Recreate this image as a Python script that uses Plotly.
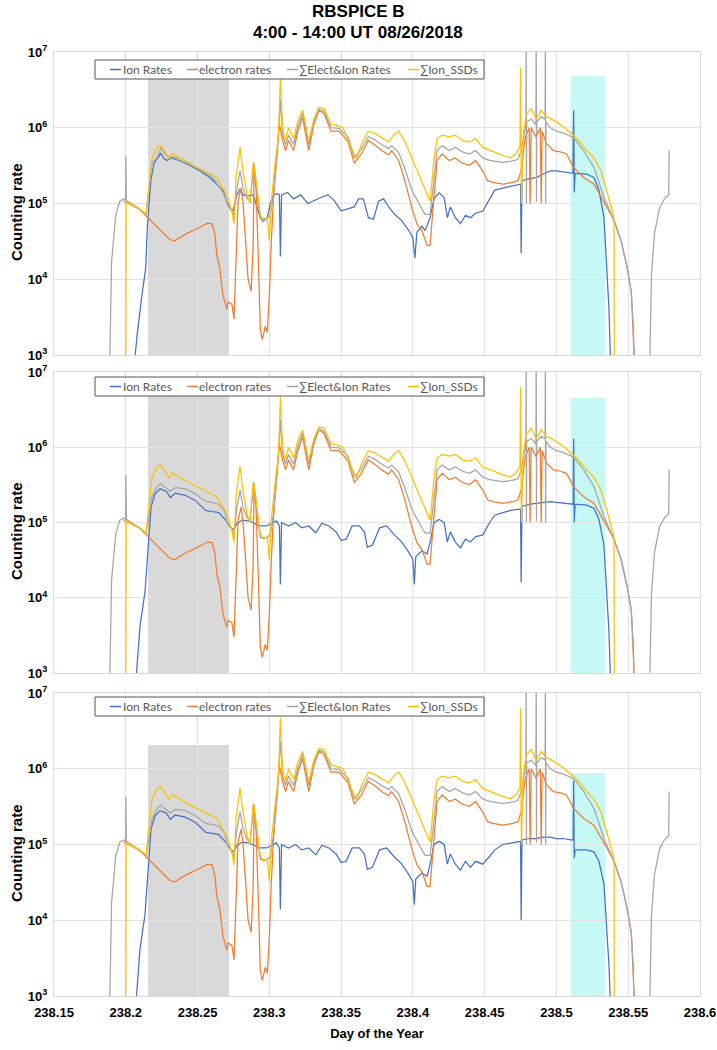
import plotly.graph_objects as go

# ---------------- data (day of year, counting rate) ----------------
SERIES_NAMES = ["Ion Rates", "electron rates", "∑Elect&Ion Rates", "∑Ion_SSDs"]
X_TICKS = [238.15, 238.2, 238.25, 238.3, 238.35, 238.4, 238.45, 238.5, 238.55, 238.6]
X_TICK_LABELS = ["238.15", "238.2", "238.25", "238.3", "238.35", "238.4", "238.45", "238.5", "238.55", "238.6"]
Y_TICKS = [1e3, 1e4, 1e5, 1e6, 1e7]
Y_TICK_LABELS = ["10<sup>3</sup>", "10<sup>4</sup>", "10<sup>5</sup>", "10<sup>6</sup>", "10<sup>7</sup>"]
GRAY_INTERVAL = [238.2155, 238.2718]
CYAN_INTERVAL = [238.5099, 238.5338]

ION_P1 = [
    (238.2050, 5e2), (238.2080, 1.9e3), (238.2113, 6.3e3), (238.2139, 1.4e4), (238.2150, 4.8e4),
    (238.2174, 2e5), (238.2197, 3.4e5), (238.2220, 4e5), (238.2244, 4.6e5), (238.2268, 3.9e5),
    (238.2289, 3.7e5), (238.2315, 4e5), (238.2373, 3.7e5), (238.2444, 3.2e5), (238.2514, 2.7e5),
    (238.2585, 2.2e5), (238.2632, 1.8e5), (238.2676, 1.5e5), (238.2702, 1.07e5), (238.2725, 8.7e4),
    (238.2746, 7.9e4), (238.2775, 1.3e5), (238.2796, 1.55e5), (238.2817, 1.3e5), (238.2845, 1.25e5),
    (238.2887, 1.3e5), (238.2937, 6.5e4), (238.2958, 5.8e4), (238.2986, 6.5e4), (238.3007, 1e5),
    (238.3028, 1.3e5), (238.3056, 1.35e5), (238.3070, 1.3e5), (238.3077, 2e4), (238.3085, 1.3e5),
    (238.3127, 1.4e5), (238.3169, 1.15e5), (238.3218, 1.3e5), (238.3268, 1e5), (238.3310, 1.1e5),
    (238.3359, 1.2e5), (238.3408, 1.3e5), (238.3451, 1.1e5), (238.3500, 8e4), (238.3549, 8.5e4),
    (238.3592, 9e4), (238.3620, 1.15e5), (238.3655, 1.15e5), (238.3690, 6.5e4), (238.3725, 6.2e4),
    (238.3761, 1.07e5), (238.3796, 1.15e5), (238.3831, 9e4), (238.3873, 7.2e4), (238.3923, 5.9e4),
    (238.3972, 4.4e4), (238.4000, 3.5e4), (238.4014, 1.9e4), (238.4028, 4.2e4), (238.4063, 5e4),
    (238.4085, 4.4e4), (238.4120, 6.5e4), (238.4148, 1.17e5), (238.4183, 1.38e5), (238.4218, 1.2e5),
    (238.4240, 6.5e4), (238.4261, 9e4), (238.4296, 6.5e4), (238.4331, 5.4e4), (238.4366, 7e4),
    (238.4401, 6.5e4), (238.4437, 7.5e4), (238.4486, 7.9e4), (238.4535, 1.17e5), (238.4570, 1.5e5),
    (238.4627, 1.6e5), (238.4683, 1.7e5), (238.4732, 1.8e5), (238.4750, 1.8e5), (238.4754, 2.2e4),
    (238.4760, 2e5), (238.4817, 2.15e5), (238.4859, 2.2e5), (238.4908, 2.45e5), (238.4958, 2.7e5),
    (238.5000, 2.7e5), (238.5049, 2.6e5), (238.5099, 2.55e5), (238.5115, 2.5e5), (238.5120, 1.7e6),
    (238.5124, 1.4e5), (238.5130, 2.5e5), (238.5211, 2.45e5), (238.5261, 2.2e5), (238.5296, 1.5e5),
    (238.5331, 6.5e4), (238.5352, 1.4e4), (238.5366, 4e3), (238.5380, 5e2),
]

ION_P2 = [
    (238.2063, 5e2), (238.2099, 4.2e3), (238.2134, 1.2e4), (238.2155, 4.7e4), (238.2176, 1.6e5),
    (238.2204, 2.4e5), (238.2239, 2.8e5), (238.2282, 2.6e5), (238.2310, 2.15e5), (238.2345, 2.45e5),
    (238.2415, 2.3e5), (238.2486, 1.95e5), (238.2556, 1.45e5), (238.2600, 1.4e5), (238.2648, 1.35e5),
    (238.2697, 1.07e5), (238.2732, 8.5e4), (238.2753, 8e4), (238.2775, 9.8e4), (238.2810, 1.07e5),
    (238.2859, 1.05e5), (238.2908, 9.5e4), (238.2930, 9e4), (238.2980, 9e4), (238.3021, 1e5),
    (238.3049, 1.05e5), (238.3070, 9e4), (238.3077, 1.5e4), (238.3085, 1e5), (238.3134, 9e4),
    (238.3183, 1e5), (238.3225, 8.5e4), (238.3275, 9e4), (238.3324, 7.3e4), (238.3366, 9.8e4),
    (238.3415, 9e4), (238.3465, 7.5e4), (238.3500, 5.8e4), (238.3535, 6e4), (238.3577, 9e4),
    (238.3627, 9e4), (238.3662, 7.5e4), (238.3683, 4.7e4), (238.3718, 5e4), (238.3768, 8.5e4),
    (238.3817, 9e4), (238.3866, 7e4), (238.3923, 5.5e4), (238.3972, 4e4), (238.4000, 3.2e4),
    (238.4010, 1.5e4), (238.4020, 3.5e4), (238.4063, 4.2e4), (238.4099, 3.8e4), (238.4120, 5.5e4),
    (238.4148, 1e5), (238.4183, 1.1e5), (238.4218, 1e5), (238.4240, 5.5e4), (238.4261, 7.5e4),
    (238.4296, 5.5e4), (238.4331, 4.6e4), (238.4366, 6e4), (238.4401, 5.5e4), (238.4437, 6.5e4),
    (238.4486, 6.8e4), (238.4535, 1e5), (238.4570, 1.25e5), (238.4627, 1.35e5), (238.4683, 1.45e5),
    (238.4732, 1.5e5), (238.4750, 1.5e5), (238.4754, 1.6e4), (238.4760, 1.65e5), (238.4817, 1.75e5),
    (238.4859, 1.8e5), (238.4908, 1.85e5), (238.4958, 1.9e5), (238.5000, 1.85e5), (238.5049, 1.8e5),
    (238.5099, 1.75e5), (238.5117, 1.75e5), (238.5120, 1.3e6), (238.5124, 1e5), (238.5130, 1.75e5),
    (238.5211, 1.7e5), (238.5261, 1.55e5), (238.5296, 1.1e5), (238.5331, 5e4), (238.5352, 1.2e4),
    (238.5366, 3.5e3), (238.5380, 5e2),
]

ION_P3 = [
    (238.2063, 5e2), (238.2099, 4.2e3), (238.2134, 1.2e4), (238.2155, 4.7e4), (238.2176, 1.6e5),
    (238.2204, 2.4e5), (238.2239, 2.8e5), (238.2282, 2.6e5), (238.2310, 2.15e5), (238.2345, 2.45e5),
    (238.2415, 2.3e5), (238.2486, 1.95e5), (238.2556, 1.45e5), (238.2600, 1.4e5), (238.2648, 1.35e5),
    (238.2697, 1.07e5), (238.2732, 8.5e4), (238.2753, 8e4), (238.2775, 9.8e4), (238.2810, 1.07e5),
    (238.2859, 1.05e5), (238.2908, 9.5e4), (238.2930, 9e4), (238.2980, 9e4), (238.3021, 1e5),
    (238.3049, 1.05e5), (238.3070, 9e4), (238.3077, 1.4e4), (238.3085, 1e5), (238.3134, 9e4),
    (238.3183, 1e5), (238.3225, 8.5e4), (238.3275, 9e4), (238.3324, 7.3e4), (238.3366, 9.8e4),
    (238.3415, 9e4), (238.3465, 7.5e4), (238.3500, 5.8e4), (238.3535, 6e4), (238.3577, 9e4),
    (238.3627, 9e4), (238.3662, 7.5e4), (238.3683, 4.7e4), (238.3718, 5e4), (238.3768, 8.5e4),
    (238.3817, 9e4), (238.3866, 7e4), (238.3923, 5.5e4), (238.3972, 4e4), (238.4000, 3.2e4),
    (238.4010, 1.6e4), (238.4020, 3.5e4), (238.4063, 4.2e4), (238.4099, 3.8e4), (238.4120, 5.5e4),
    (238.4148, 1e5), (238.4183, 1.1e5), (238.4218, 1e5), (238.4240, 5.5e4), (238.4261, 7.5e4),
    (238.4296, 5.5e4), (238.4331, 4.6e4), (238.4366, 6e4), (238.4401, 5e4), (238.4437, 6e4),
    (238.4486, 5.5e4), (238.4535, 7e4), (238.4570, 8.5e4), (238.4627, 1e5), (238.4683, 1.05e5),
    (238.4732, 1.1e5), (238.4750, 1.1e5), (238.4754, 1e4), (238.4760, 1.15e5), (238.4817, 1.2e5),
    (238.4859, 1.2e5), (238.4908, 1.25e5), (238.4958, 1.25e5), (238.5000, 1.2e5), (238.5049, 1.2e5),
    (238.5099, 1.15e5), (238.5117, 1.15e5), (238.5120, 7e5), (238.5124, 6.6e4), (238.5130, 8.5e4),
    (238.5211, 8.5e4), (238.5261, 8e4), (238.5296, 6e4), (238.5331, 3e4), (238.5352, 8e3),
    (238.5366, 2.5e3), (238.5380, 5e2),
]

ELECTRON = [
    (238.1985, 1.08e5), (238.2092, 8.5e4), (238.2141, 6.9e4), (238.2232, 4.6e4), (238.2303, 3.4e4),
    (238.2338, 3.2e4), (238.2423, 4e4), (238.2493, 4.6e4), (238.2570, 5.5e4), (238.2600, 5.4e4),
    (238.2620, 4e4), (238.2634, 2.1e4), (238.2655, 1.4e4), (238.2676, 6.3e3), (238.2704, 4e3),
    (238.2711, 5e3), (238.2739, 4.7e3), (238.2754, 3e3), (238.2768, 1.7e4), (238.2782, 1.07e5),
    (238.2803, 1.6e5), (238.2817, 1e5), (238.2838, 2.6e4), (238.2852, 1e4), (238.2873, 6.9e3),
    (238.2887, 2.6e4), (238.2894, 3e5), (238.2908, 1.5e5), (238.2923, 2e4), (238.2937, 2.2e3),
    (238.2951, 1.6e3), (238.2972, 2.4e3), (238.2986, 2e3), (238.3000, 6e3), (238.3014, 3.2e4),
    (238.3028, 1.1e5), (238.3056, 5.5e5), (238.3070, 1.1e6), (238.3092, 6.8e5), (238.3113, 5e5),
    (238.3134, 6.8e5), (238.3169, 5e5), (238.3197, 8.7e5), (238.3232, 1.38e6), (238.3254, 8e5),
    (238.3275, 5e5), (238.3310, 1.1e6), (238.3345, 1.7e6), (238.3380, 1.55e6), (238.3430, 9e5),
    (238.3486, 9e5), (238.3549, 6.5e5), (238.3592, 3.4e5), (238.3641, 4.5e5), (238.3690, 6.8e5),
    (238.3732, 6e5), (238.3782, 5e5), (238.3831, 4.4e5), (238.3852, 5e5), (238.3901, 3.7e5),
    (238.3944, 2e5), (238.3993, 8.7e4), (238.4028, 5.4e4), (238.4063, 4.4e4), (238.4099, 2.8e4),
    (238.4120, 2.8e4), (238.4148, 1.3e5), (238.4169, 3.7e5), (238.4204, 4.5e5), (238.4254, 3.7e5),
    (238.4296, 4e5), (238.4345, 3.4e5), (238.4394, 3.2e5), (238.4437, 3.7e5), (238.4486, 2.7e5),
    (238.4521, 2e5), (238.4556, 1.9e5), (238.4627, 1.8e5), (238.4697, 1.9e5), (238.4732, 2e5),
    (238.4754, 2.7e5), (238.4782, 7.4e5), (238.4810, 1e6), (238.4817, 1e5), (238.4824, 1e6),
    (238.4838, 9e5), (238.4859, 7.5e5), (238.4887, 1e6), (238.4894, 1e5), (238.4900, 9e5),
    (238.4930, 6.2e5), (238.4979, 5e5), (238.5028, 4.8e5), (238.5070, 4.5e5), (238.5120, 3e5),
    (238.5190, 2.2e5), (238.5261, 1.8e5), (238.5331, 1.05e5), (238.5380, 7e4), (238.5401, 6e4),
    (238.5451, 3.2e4), (238.5493, 1.4e4), (238.5521, 6.9e3), (238.5535, 2.5e3), (238.5549, 5e2),
]

ION_SSDS = [
    (238.2000, 5e2), (238.2003, 1.05e5), (238.2092, 8.7e4), (238.2141, 7.2e4), (238.2160, 1.6e5),
    (238.2183, 4e5), (238.2218, 5.4e5), (238.2240, 5.8e5), (238.2268, 5e5), (238.2303, 3.9e5),
    (238.2324, 4.6e5), (238.2373, 4e5), (238.2465, 3.2e5), (238.2563, 2.6e5), (238.2634, 2.2e5),
    (238.2676, 1.6e5), (238.2704, 1.3e5), (238.2739, 7.9e4), (238.2754, 5.4e4), (238.2768, 2.2e5),
    (238.2796, 5.6e5), (238.2817, 2.6e5), (238.2845, 1.3e5), (238.2866, 1e5), (238.2887, 3.5e5),
    (238.2908, 2e5), (238.2937, 7.2e4), (238.2958, 6e4), (238.2986, 6.5e4), (238.3000, 3.2e4),
    (238.3014, 1.1e5), (238.3042, 3.7e5), (238.3063, 7.4e5), (238.3077, 4.7e6), (238.3092, 1e6),
    (238.3113, 6.8e5), (238.3134, 1e6), (238.3169, 7.2e5), (238.3197, 1.2e6), (238.3232, 1.7e6),
    (238.3254, 1.1e6), (238.3275, 6.8e5), (238.3310, 1.3e6), (238.3345, 1.85e6), (238.3380, 1.8e6),
    (238.3430, 1.12e6), (238.3486, 1.05e6), (238.3514, 1e6), (238.3570, 5.5e5), (238.3606, 3.9e5),
    (238.3641, 6e5), (238.3690, 9e5), (238.3732, 8.5e5), (238.3782, 7.4e5), (238.3831, 6.5e5),
    (238.3866, 8e5), (238.3901, 9e5), (238.3944, 6.6e5), (238.3993, 4e5), (238.4042, 2.5e5),
    (238.4085, 1.6e5), (238.4120, 1.07e5), (238.4148, 4e5), (238.4169, 7.2e5), (238.4204, 8e5),
    (238.4254, 7.6e5), (238.4296, 8e5), (238.4345, 6.8e5), (238.4394, 6.5e5), (238.4437, 7.2e5),
    (238.4486, 5.5e5), (238.4535, 5e5), (238.4577, 4.7e5), (238.4627, 4.3e5), (238.4676, 4e5),
    (238.4718, 4.5e5), (238.4746, 5.6e5), (238.4750, 6.3e6), (238.4756, 1e5), (238.4768, 8e5),
    (238.4789, 1.5e6), (238.4824, 1.8e6), (238.4859, 1.3e6), (238.4894, 1.7e6), (238.4930, 1.4e6),
    (238.4979, 1.26e6), (238.5028, 1.1e6), (238.5070, 9.5e5), (238.5120, 7.9e5), (238.5169, 6.3e5),
    (238.5211, 5e5), (238.5261, 4e5), (238.5310, 2.7e5), (238.5345, 1.6e5), (238.5380, 8.7e4),
    (238.5401, 6.5e4), (238.5403, 5e2),
]

TOTAL_EARLY_P1 = [
    (238.1880, 1e2), (238.1901, 1.7e4), (238.1930, 7e4), (238.1958, 1.07e5), (238.1985, 1.15e5),
    (238.1998, 1.1e5), (238.2000, 4.3e5), (238.2004, 1.1e5), (238.2092, 8.5e4), (238.2141, 7.2e4),
    (238.2162, 1.6e5), (238.2183, 3.5e5), (238.2218, 4e5), (238.2246, 5.5e5), (238.2268, 4.6e5),
    (238.2289, 4.2e5), (238.2373, 4e5), (238.2493, 3e5), (238.2606, 2.2e5), (238.2690, 1.3e5),
]

TOTAL_EARLY_P2 = [
    (238.1880, 1e2), (238.1901, 1.7e4), (238.1930, 7e4), (238.1958, 1.07e5), (238.1985, 1.15e5),
    (238.1998, 1.1e5), (238.2000, 4.3e5), (238.2004, 1.1e5), (238.2092, 8.5e4), (238.2141, 7.2e4),
    (238.2162, 1.2e5), (238.2183, 2.2e5), (238.2218, 3e5), (238.2246, 3.3e5), (238.2268, 3e5),
    (238.2310, 2.6e5), (238.2345, 2.9e5), (238.2415, 2.8e5), (238.2486, 2.4e5), (238.2556, 1.9e5),
    (238.2600, 1.85e5), (238.2648, 1.75e5), (238.2690, 1.4e5),
]

TOTAL_LATE = [
    (238.2704, 1e5), (238.2739, 8e4), (238.2754, 7e4), (238.2775, 1.6e5), (238.2796, 2.7e5),
    (238.2817, 1.6e5), (238.2845, 1.15e5), (238.2866, 1.1e5), (238.2894, 3.4e5), (238.2915, 1.3e5),
    (238.2937, 6.3e4), (238.2986, 6.3e4), (238.3007, 7e4), (238.3028, 1.3e5), (238.3056, 4.7e5),
    (238.3077, 2.3e6), (238.3092, 8e5), (238.3113, 6e5), (238.3134, 8e5), (238.3169, 6e5),
    (238.3197, 1e6), (238.3232, 1.55e6), (238.3254, 9.5e5), (238.3275, 6e5), (238.3310, 1.2e6),
    (238.3345, 1.75e6), (238.3380, 1.65e6), (238.3430, 1e6), (238.3486, 9.8e5), (238.3549, 7.5e5),
    (238.3592, 4e5), (238.3641, 5.2e5), (238.3690, 7.6e5), (238.3732, 7e5), (238.3782, 6e5),
    (238.3831, 5.3e5), (238.3852, 5.8e5), (238.3901, 4.7e5), (238.3944, 2.9e5), (238.3993, 1.5e5),
    (238.4042, 1e5), (238.4085, 7.2e4), (238.4120, 7.2e4), (238.4148, 2.2e5), (238.4169, 5e5),
    (238.4204, 5.8e5), (238.4254, 5e5), (238.4296, 5.5e5), (238.4345, 4.8e5), (238.4394, 4.5e5),
    (238.4437, 5e5), (238.4486, 4e5), (238.4535, 3.7e5), (238.4577, 3.6e5), (238.4627, 3.5e5),
    (238.4683, 3.6e5), (238.4732, 3.8e5), (238.4754, 5e5), (238.4782, 1e6), (238.4787, 1.1e6),
    (238.4789, 2e7), (238.4791, 1e5), (238.4793, 1.2e6), (238.4824, 1.3e6), (238.4838, 1.2e6),
    (238.4857, 1.1e6), (238.4859, 2e7), (238.4861, 1.05e5), (238.4863, 1.2e6), (238.4894, 1.4e6),
    (238.4921, 1.3e6), (238.4923, 2e7), (238.4925, 1e5), (238.4927, 1.2e6), (238.4958, 1e6),
    (238.5000, 9e5), (238.5049, 8.5e5), (238.5099, 7.6e5), (238.5120, 7.4e5), (238.5190, 5e5),
    (238.5261, 3e5), (238.5331, 1.2e5), (238.5380, 7.2e4), (238.5401, 6e4), (238.5451, 3.2e4),
    (238.5493, 1.4e4), (238.5521, 6.9e3), (238.5535, 2.5e3), (238.5549, 1e2), (238.5641, 1e2),
    (238.5662, 1.15e4), (238.5683, 4e4), (238.5718, 8.7e4), (238.5754, 1.17e5), (238.5782, 1.3e5),
    (238.5785, 5e5),
]

TOTAL_P1 = TOTAL_EARLY_P1 + TOTAL_LATE
TOTAL_P2 = TOTAL_EARLY_P2 + TOTAL_LATE
TOTAL_P3 = TOTAL_EARLY_P2 + TOTAL_LATE

PANELS = [
    [ION_P1, ELECTRON, TOTAL_P1, ION_SSDS],
    [ION_P2, ELECTRON, TOTAL_P2, ION_SSDS],
    [ION_P3, ELECTRON, TOTAL_P3, ION_SSDS],
]

# ---------------- styling / layout ----------------
COLORS = ["#4472C4", "#ED7D31", "#A5A5A5", "#FFC000"]
FONT = "Liberation Sans"
PLOT_L, PLOT_R, PLOT_T, PLOT_B = 54, 700, 52, 996   # plot area in page pixels
W, H = 717, 1050


def px(x):
    return (x - PLOT_L) / (PLOT_R - PLOT_L)


def py(y):
    return (PLOT_B - y) / (PLOT_B - PLOT_T)


PANEL_PIX = [(52, 355), (372, 673), (693, 996)]          # top / bottom of each panel
LEGEND_PIX = [(60, 79), (377, 396), (697, 716)]          # legend box top / bottom
LABEL_PIX = [212, 531, 853]                              # centre of y-axis title
GRAY_TOP_PIX = [77, 395, 745]
CYAN_TOP_PIX = [76, 398, 773]
LEG_BOX_X = (95, 484)
LEG_LINE_X = [(110, 121), (187, 198), (287, 298), (408, 419)]
LEG_TEXT_X = [122, 198, 298, 419]

fig = go.Figure()
annotations, shapes = [], []
layout = dict(
    template="none",
    width=W, height=H,
    margin=dict(l=PLOT_L, r=W - PLOT_R, t=PLOT_T, b=H - PLOT_B, pad=0, autoexpand=False),
    paper_bgcolor="white", plot_bgcolor="white",
    showlegend=False, hovermode=False,
)

annotations.append(dict(text="RBSPICE B", xref="paper", yref="paper", x=px(358), y=py(11),
                        xanchor="center", yanchor="middle", showarrow=False,
                        font=dict(family=FONT, size=17, color="black", weight="bold")))
annotations.append(dict(text="4:00 - 14:00 UT 08/26/2018", xref="paper", yref="paper",
                        x=px(358), y=py(32), xanchor="center", yanchor="middle", showarrow=False,
                        font=dict(family=FONT, size=17, color="black", weight="bold")))

for i, series in enumerate(PANELS):
    n = "" if i == 0 else str(i + 1)
    xa, ya = "x" + n, "y" + n
    for j, pts in enumerate(series):
        fig.add_trace(go.Scatter(
            x=[p[0] for p in pts], y=[p[1] for p in pts],
            mode="lines", name=SERIES_NAMES[j],
            line=dict(color=COLORS[j], width=1.25),
            xaxis=xa, yaxis=ya,
        ))
    is_bottom = (i == 2)
    top, bot = PANEL_PIX[i]
    xaxis = dict(
        domain=[0, 1], anchor=ya, range=[238.15, 238.6], automargin=False,
        tickmode="array", tickvals=X_TICKS, showticklabels=is_bottom,
        tickfont=dict(family=FONT, size=13, color="black", weight="bold"),
        ticks="outside" if is_bottom else "", ticklen=4, tickcolor="rgba(0,0,0,0)",
        showgrid=True, gridcolor="#e2e2e2", gridwidth=1,
        showline=True, linecolor="#dadada", linewidth=1, mirror=True, zeroline=False,
    )
    if is_bottom:
        xaxis["ticktext"] = X_TICK_LABELS
        xaxis["title"] = dict(text="Day of the Year",
                              font=dict(family=FONT, size=13, color="black", weight="bold"),
                              standoff=10)
    layout["xaxis" + n] = xaxis
    layout["yaxis" + n] = dict(
        domain=[py(bot), py(top)], anchor=xa, type="log", range=[3, 7], automargin=False,
        tickmode="array", tickvals=Y_TICKS, ticktext=Y_TICK_LABELS,
        tickfont=dict(family=FONT, size=13, color="black", weight="bold"),
        ticks="outside", ticklen=3, tickcolor="rgba(0,0,0,0)",
        showgrid=True, gridcolor="#e2e2e2", gridwidth=1,
        showline=True, linecolor="#dadada", linewidth=1, mirror=True, zeroline=False,
    )
    annotations.append(dict(
        text="Counting rate", textangle=-90, xref="paper", yref="paper",
        x=px(16), y=py(LABEL_PIX[i]), xanchor="center", yanchor="middle", showarrow=False,
        font=dict(family=FONT, size=15, color="black", weight="bold"),
    ))
    # shaded intervals
    for (x0, x1), col, tpix in ((GRAY_INTERVAL, "#d9d9d9", GRAY_TOP_PIX[i]),
                                (CYAN_INTERVAL, "#c6f8f6", CYAN_TOP_PIX[i])):
        shapes.append(dict(
            type="rect", xref=xa, yref=ya + " domain", x0=x0, x1=x1,
            y0=0, y1=(bot - tpix) / (bot - top),
            fillcolor=col, line=dict(width=0), layer="below",
        ))
    # legend box
    lt, lb = LEGEND_PIX[i]
    shapes.append(dict(type="rect", xref="paper", yref="paper",
                       x0=px(LEG_BOX_X[0]), x1=px(LEG_BOX_X[1]), y0=py(lb), y1=py(lt),
                       fillcolor="white", line=dict(color="#555555", width=1), layer="above"))
    ymid = py((lt + lb) / 2)
    for j in range(4):
        shapes.append(dict(type="line", xref="paper", yref="paper",
                           x0=px(LEG_LINE_X[j][0]), x1=px(LEG_LINE_X[j][1]), y0=ymid, y1=ymid,
                           line=dict(color=COLORS[j], width=1.5), layer="above"))
        annotations.append(dict(text=SERIES_NAMES[j], xref="paper", yref="paper",
                                x=px(LEG_TEXT_X[j]), y=ymid, xanchor="left", yanchor="middle",
                                showarrow=False, borderpad=0,
                                font=dict(family="Lato", size=12, color="#595959")))

layout["annotations"] = annotations
layout["shapes"] = shapes
fig.update_layout(**layout)
fig.write_html(
    "out.html",
    config={"displayModeBar": False, "staticPlot": False},
    post_script="document.body.style.margin='0px';document.body.style.padding='0px';",
)
